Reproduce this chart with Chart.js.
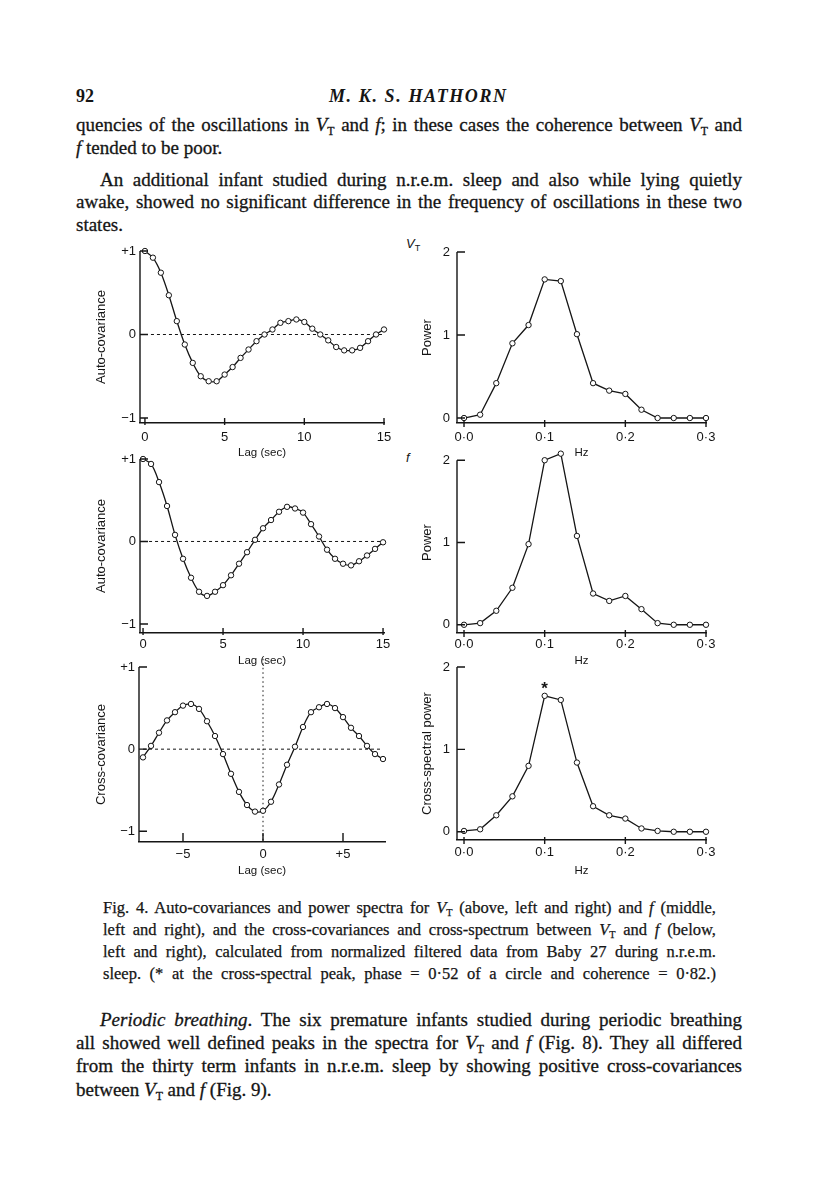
<!DOCTYPE html>
<html>
<head>
<meta charset="utf-8">
<script src="https://cdn.jsdelivr.net/npm/chart.js@4.4.1/dist/chart.umd.min.js"></script>
<style>
    body { margin: 0; background: #fff; }
    #page { position: relative; width: 816px; height: 1191px; overflow: hidden; color: #151515;
        font-family: "Liberation Serif", "DejaVu Serif", serif; }
    .ln { position: absolute; left: 76px; width: 666px; font-size: 19px; line-height: 23px;
        text-align: justify; text-align-last: justify; -webkit-text-stroke: 0.3px #151515; }
    .ln.short { text-align: left; text-align-last: left; }
    .ln.ind { left: 100px; width: 642px; }
    .cap { position: absolute; left: 103px; width: 613px; font-size: 16.5px; line-height: 21px;
        text-align: justify; text-align-last: justify; -webkit-text-stroke: 0.25px #151515; }
    sub { font-size: 0.62em; vertical-align: -0.3em; line-height: 0; font-style: normal; }
    .head { position: absolute; top: 85px; font-size: 18px; line-height: 22px; font-weight: bold; }
    .lbl { position: absolute; font-family: "Liberation Sans", Arial, sans-serif; font-style: italic; font-size: 13px; }
    .lbl sub { font-size: 0.7em; }
    canvas { position: absolute; }
</style>
</head>
<body>
<div id="page">
    <div class="head" style="left:76px;">92</div>
    <div class="head" style="left:329px;font-style:italic;letter-spacing:1.6px;">M. K. S. HATHORN</div>

    <div class="ln" style="top:113px">quencies of the oscillations in <i>V</i><sub>T</sub> and <i>f</i>; in these cases the coherence between <i>V</i><sub>T</sub> and</div>
    <div class="ln short" style="top:136px"><i>f</i> tended to be poor.</div>
    <div class="ln ind" style="top:168px">An additional infant studied during n.r.e.m. sleep and also while lying quietly</div>
    <div class="ln" style="top:190px">awake, showed no significant difference in the frequency of oscillations in these two</div>
    <div class="ln short" style="top:213px">states.</div>

    <span class="lbl" style="left:406px;top:236px">V<sub>T</sub></span>
    <span class="lbl" style="left:406px;top:450px">f</span>

    <canvas id="vtAutoChart" width="320" height="226" style="left:80px;top:236px"></canvas>
    <canvas id="vtPowerChart" width="330" height="225" style="left:400px;top:237px"></canvas>
    <canvas id="fAutoChart" width="320" height="225" style="left:80px;top:445px"></canvas>
    <canvas id="fPowerChart" width="330" height="225" style="left:400px;top:445px"></canvas>
    <canvas id="crossCovChart" width="320" height="227" style="left:80px;top:653px"></canvas>
    <canvas id="crossPowerChart" width="330" height="227" style="left:400px;top:653px"></canvas>

    <div class="cap" style="top:897px">Fig. 4. Auto-covariances and power spectra for <i>V</i><sub>T</sub> (above, left and right) and <i>f</i> (middle,</div>
    <div class="cap" style="top:919px">left and right), and the cross-covariances and cross-spectrum between <i>V</i><sub>T</sub> and <i>f</i> (below,</div>
    <div class="cap" style="top:941px">left and right), calculated from normalized filtered data from Baby 27 during n.r.e.m.</div>
    <div class="cap" style="top:963px">sleep. (* at the cross-spectral peak, phase = 0·52 of a circle and coherence = 0·82.)</div>

    <div class="ln ind" style="top:1008px"><i>Periodic breathing</i>. The six premature infants studied during periodic breathing</div>
    <div class="ln" style="top:1031px">all showed well defined peaks in the spectra for <i>V</i><sub>T</sub> and <i>f</i> (Fig. 8). They all differed</div>
    <div class="ln" style="top:1054px">from the thirty term infants in n.r.e.m. sleep by showing positive cross-covariances</div>
    <div class="ln short" style="top:1078px">between <i>V</i><sub>T</sub> and <i>f</i> (Fig. 9).</div>
</div>

<script>
    // lags in seconds, frequencies in Hz
    const lagAuto = [0, 0.5, 1, 1.5, 2, 2.5, 3, 3.5, 4, 4.5, 5, 5.5, 6, 6.5, 7, 7.5,
        8, 8.5, 9, 9.5, 10, 10.5, 11, 11.5, 12, 12.5, 13, 13.5, 14, 14.5, 15];
    const lagCross = [-7.5, -7, -6.5, -6, -5.5, -5, -4.5, -4, -3.5, -3, -2.5, -2, -1.5, -1, -0.5, 0,
        0.5, 1, 1.5, 2, 2.5, 3, 3.5, 4, 4.5, 5, 5.5, 6, 6.5, 7, 7.5];
    const freq = [0, 0.02, 0.04, 0.06, 0.08, 0.10, 0.12, 0.14, 0.16, 0.18, 0.20, 0.22, 0.24, 0.26, 0.28, 0.30];

    const vtAuto = [1.00, 0.92, 0.74, 0.47, 0.16, -0.12, -0.34, -0.50, -0.56, -0.56, -0.48, -0.39, -0.28, -0.18, -0.08, 0.00,
        0.06, 0.14, 0.16, 0.18, 0.15, 0.07, 0.00, -0.07, -0.15, -0.19, -0.19, -0.16, -0.08, 0.00, 0.06];
    const fAuto = [1.00, 0.94, 0.72, 0.43, 0.08, -0.21, -0.44, -0.61, -0.66, -0.61, -0.53, -0.41, -0.27, -0.13, 0.02, 0.16,
        0.26, 0.36, 0.42, 0.40, 0.35, 0.21, 0.06, -0.10, -0.21, -0.27, -0.29, -0.24, -0.17, -0.09, -0.01];
    const crossCov = [-0.10, 0.04, 0.20, 0.35, 0.45, 0.53, 0.55, 0.49, 0.34, 0.16, -0.06, -0.30, -0.52, -0.68, -0.76, -0.75,
        -0.64, -0.43, -0.19, 0.03, 0.27, 0.45, 0.51, 0.55, 0.50, 0.39, 0.26, 0.16, 0.04, -0.06, -0.12];

    const vtPower = [0.00, 0.04, 0.42, 0.90, 1.12, 1.67, 1.65, 1.01, 0.42, 0.33, 0.29, 0.10, 0.00, 0.00, 0.00, 0.00];
    const fPower = [0.00, 0.02, 0.17, 0.45, 0.98, 2.00, 2.08, 1.08, 0.38, 0.29, 0.35, 0.19, 0.02, 0.00, 0.00, 0.00];
    const crossPower = [0.01, 0.03, 0.20, 0.43, 0.80, 1.65, 1.60, 0.84, 0.31, 0.20, 0.16, 0.04, 0.01, 0.00, 0.00, 0.00];

    const lagTicks = [0, 5, 10, 15];
    const crossLagTicks = [-5, 0, 5];
    const hzTicks = [0, 0.1, 0.2, 0.3];
    const covTicks = [-1, 0, 1];
    const powerTicks = [0, 1, 2];

    const zeroSpanAuto = [0, 15];
    const zeroSpanCross = [-7.5, 7.5];
    const zeroLagSpan = [1.1, -1.13];

    const INK = '#151515';
    const SANS = '"Liberation Sans", Arial, sans-serif';

    function pairs(xs, ys) {
        return xs.map(function (x, i) {
            return { x: x, y: ys[i] };
        });
    }

    function signed(v) {
        if (v > 0) return '+' + v;
        if (v < 0) return '\u2212' + Math.abs(v);
        return '0';
    }

    function hzLabel(v) {
        return v.toFixed(1).replace('.', '\u00b7');
    }

    // y axis line stops at the top tick, and ticks point into the plot
    const inwardTicks = {
        id: 'inwardTicks',
        afterDraw: function (chart, args, opts) {
            const ctx = chart.ctx;
            const area = chart.chartArea;
            const xs = chart.scales.x;
            const ys = chart.scales.y;
            const top = ys.getPixelForValue(ys.ticks[ys.ticks.length - 1].value);
            ctx.save();
            ctx.strokeStyle = INK;
            ctx.lineWidth = 1.4;
            ctx.beginPath();
            ctx.moveTo(area.left, top);
            ctx.lineTo(area.left, area.bottom);
            ys.ticks.forEach(function (t) {
                const py = ys.getPixelForValue(t.value);
                ctx.moveTo(area.left, py);
                ctx.lineTo(area.left + 8, py);
            });
            xs.ticks.forEach(function (t) {
                const px = xs.getPixelForValue(t.value);
                ctx.moveTo(px, area.bottom + opts.down);
                ctx.lineTo(px, area.bottom - opts.up);
            });
            ctx.stroke();
            ctx.restore();
        }
    };

    const peakStar = {
        id: 'peakStar',
        afterDatasetsDraw: function (chart) {
            const points = chart.data.datasets[0].data;
            let best = 0;
            points.forEach(function (p, i) {
                if (p.y > points[best].y) best = i;
            });
            const el = chart.getDatasetMeta(0).data[best];
            const ctx = chart.ctx;
            ctx.save();
            ctx.fillStyle = INK;
            ctx.font = 'bold 17px ' + SANS;
            ctx.textAlign = 'center';
            ctx.textBaseline = 'alphabetic';
            ctx.fillText('*', el.x, el.y - 2);
            ctx.restore();
        }
    };

    function curve(data, tension) {
        return {
            data: data,
            borderColor: INK,
            borderWidth: 1.3,
            tension: tension,
            pointRadius: 2.7,
            pointBorderWidth: 1,
            pointBorderColor: INK,
            pointBackgroundColor: '#fff',
            clip: false,
            order: 1
        };
    }

    function refLine(data, dash) {
        return {
            data: data,
            borderColor: INK,
            borderWidth: 1,
            borderDash: dash,
            pointRadius: 0,
            tension: 0,
            clip: false,
            order: 2
        };
    }

    function buildPanel(id, cfg) {
        const datasets = [curve(cfg.data, cfg.tension)].concat(cfg.refs || []);
        return new Chart(document.getElementById(id), {
            type: 'line',
            data: { datasets: datasets },
            plugins: [inwardTicks].concat(cfg.extra || []),
            options: {
                responsive: false,
                animation: false,
                events: [],
                layout: { padding: { top: cfg.padTop, right: cfg.padRight, left: 0, bottom: 0 } },
                plugins: {
                    legend: { display: false },
                    tooltip: { enabled: false },
                    inwardTicks: { up: cfg.tickUp, down: cfg.tickDown }
                },
                scales: {
                    x: {
                        type: 'linear',
                        min: cfg.xMin,
                        max: cfg.xMax,
                        afterBuildTicks: function (scale) {
                            scale.ticks = cfg.xTicks.map(function (v) { return { value: v }; });
                        },
                        afterFit: function (scale) {
                            scale.height = cfg.xHeight;
                            scale.paddingLeft = 0;
                            scale.paddingRight = 0;
                        },
                        grid: { display: false, drawTicks: false },
                        border: { display: true, color: INK, width: 1.4 },
                        ticks: {
                            padding: cfg.xPad,
                            color: INK,
                            font: { family: SANS, size: 13 },
                            maxRotation: 0,
                            autoSkip: false,
                            callback: cfg.xFormat
                        },
                        title: {
                            display: true,
                            text: cfg.xTitle,
                            color: INK,
                            font: { family: SANS, size: 11.5 },
                            padding: { top: 0, bottom: 2 }
                        }
                    },
                    y: {
                        min: cfg.yMin,
                        max: cfg.yMax,
                        afterBuildTicks: function (scale) {
                            scale.ticks = cfg.yTicks.map(function (v) { return { value: v }; });
                        },
                        afterFit: function (scale) {
                            scale.width = cfg.yWidth;
                            scale.paddingTop = 0;
                            scale.paddingBottom = 0;
                        },
                        grid: { display: false, drawTicks: false },
                        border: { display: false },
                        ticks: {
                            padding: cfg.yPad,
                            color: INK,
                            font: { family: SANS, size: 13 },
                            callback: cfg.yFormat
                        },
                        title: {
                            display: true,
                            text: cfg.yTitle,
                            color: INK,
                            font: { family: SANS, size: 13 },
                            padding: { top: cfg.yTitlePad, bottom: 0 }
                        }
                    }
                }
            }
        });
    }

    const covBase = {
        tension: 0.35, xTicks: lagTicks, yTicks: covTicks, xFormat: function (v) { return String(v); },
        yFormat: signed, xTitle: 'Lag (sec)', yTitle: 'Auto-covariance', yWidth: 60, yPad: 4,
        yTitlePad: 14, padRight: 16, xMax: 15, yMax: 1, tickUp: 5, tickDown: 2
    };
    const powBase = {
        tension: 0, xTicks: hzTicks, yTicks: powerTicks, xFormat: hzLabel,
        yFormat: function (v) { return String(v); }, xTitle: 'Hz', yTitle: 'Power', yWidth: 57, yPad: 7,
        yTitlePad: 20, padRight: 24, xMin: -0.0087, xMax: 0.3, yMax: 2, tickUp: 3, tickDown: 4
    };

    buildPanel('vtAutoChart', Object.assign({}, covBase, {
        data: pairs(lagAuto, vtAuto),
        refs: [refLine(pairs(zeroSpanAuto, [0, 0]), [3, 3])],
        xMin: -0.31, yMin: -1.06, padTop: 15, xHeight: 39, xPad: 7
    }));

    buildPanel('vtPowerChart', Object.assign({}, powBase, {
        data: pairs(freq, vtPower),
        yMin: -0.06, padTop: 15, xHeight: 39, xPad: 7
    }));

    buildPanel('fAutoChart', Object.assign({}, covBase, {
        data: pairs(lagAuto, fAuto),
        refs: [refLine(pairs(zeroSpanAuto, [0, 0]), [3, 3])],
        xMin: -0.19, xMax: 15.06, yMin: -1.11, padTop: 14, xHeight: 37, xPad: 4
    }));

    // peak rises above the "2" tick, so the plot area reaches a little higher
    buildPanel('fPowerChart', Object.assign({}, powBase, {
        data: pairs(freq, fPower),
        yMin: -0.1, yMax: 2.1, padTop: 7, xHeight: 37, xPad: 4
    }));

    buildPanel('crossCovChart', Object.assign({}, covBase, {
        data: pairs(lagCross, crossCov),
        refs: [
            refLine(pairs(zeroSpanCross, [0, 0]), [3, 3]),
            refLine(pairs([0, 0], zeroLagSpan), [1.5, 3])
        ],
        xTicks: crossLagTicks, xFormat: signed, yTitle: 'Cross-covariance', yWidth: 59,
        xMin: -7.75, xMax: 7.625, yMin: -1.13, padTop: 14, padRight: 15, xHeight: 38, xPad: 5,
        tickUp: 9, tickDown: 0
    }));

    buildPanel('crossPowerChart', Object.assign({}, powBase, {
        data: pairs(freq, crossPower),
        extra: [peakStar],
        yTitle: 'Cross-spectral power',
        yMin: -0.1, padTop: 14, xHeight: 40, xPad: 5
    }));
</script>
</body>
</html>
